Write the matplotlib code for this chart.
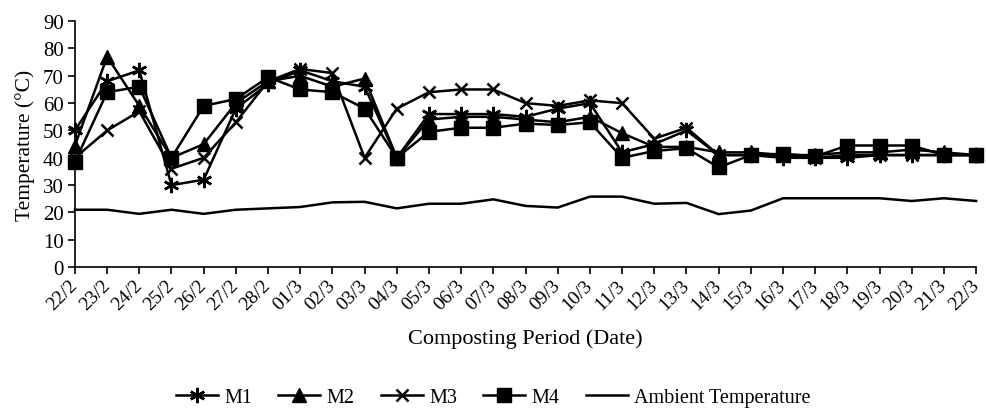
import numpy as np
import matplotlib
matplotlib.use("Agg")
import matplotlib.pyplot as plt

plt.rcParams['font.family'] = ['Liberation Serif', 'DejaVu Serif']

# dates on the x axis
dates = ["22/2", "23/2", "24/2", "25/2", "26/2", "27/2", "28/2", "01/3", "02/3", "03/3",
         "04/3", "05/3", "06/3", "07/3", "08/3", "09/3", "10/3", "11/3", "12/3", "13/3",
         "14/3", "15/3", "16/3", "17/3", "18/3", "19/3", "20/3", "21/3", "22/3"]

# temperatures
m1 = [50, 68, 72, 30, 32, 58, 67, 72, 68, 66,
      40, 56, 56, 56, 55, 58, 60, 42, 45, 50,
      41, 41, 40, 40, 40, 41, 41, 41, 41]
m2 = [44.5, 77, 59, 40, 45, 60, 68, 70, 66, 69,
      40, 54, 55, 55, 54, 53, 55, 49, 44, 44,
      42, 42, 41, 41, 42, 42, 43, 42, 41]
m3 = [40, 50, 57, 36, 40, 53, 68, 72.5, 71, 40,
      58, 64, 65, 65, 60, 59, 61, 60, 47, 51,
      41, 41, 41, 40, 41, 41, 41, 41, 41]
m4 = [38.5, 64, 66, 40, 59, 61.5, 69.5, 65, 64, 58,
      40, 49.5, 51, 51, 52.5, 52, 53, 40, 42.5, 43.5,
      36.5, 41, 41.5, 40.5, 44.5, 44.5, 44.5, 41, 41]
ambient = [21, 21, 19.5, 21, 19.5, 21, 21.5, 22, 23.7, 23.9,
           21.5, 23.2, 23.2, 24.8, 22.4, 21.8, 25.8, 25.8, 23.2, 23.5,
           19.4, 20.7, 25.2, 25.2, 25.2, 25.2, 24.2, 25.2, 24.2]

x = np.arange(len(dates))

fig = plt.figure(figsize=(9.86, 4.1), dpi=100)
ax = fig.add_axes([0.076, 0.346, 0.914, 0.6])

kw = dict(color='black', lw=1.8, clip_on=False)
ax.plot(x, m1, marker=(6, 2, 0), ms=11, mew=1.8, label='M1', **kw)
ax.plot(x, m2, marker='^', ms=10, label='M2', **kw)
ax.plot(x, m3, marker='x', ms=9, mew=1.8, label='M3', **kw)
ax.plot(x, m4, marker='s', ms=10, label='M4', **kw)
ax.plot(x, ambient, lw=1.8, color='black', label='Ambient Temperature', clip_on=False)

ax.set_xlim(0, len(dates) - 1)
ax.set_ylim(0, 90)
ax.set_yticks(np.arange(0, 91, 10))
ax.set_xticks(x)
ax.set_xticklabels(dates, rotation=45, ha='right', va='center', rotation_mode='anchor',
                   fontsize=14)
ax.tick_params(axis='y', labelsize=15, direction='out', length=5, width=1.2, pad=3)
ax.tick_params(axis='x', direction='out', length=5, width=1.2, pad=6)
for s in ['left', 'bottom']:
    ax.spines[s].set_linewidth(1.2)
ax.spines['top'].set_visible(False)
ax.spines['right'].set_visible(False)
ax.set_ylabel('Temperature (°C)', fontsize=15.5, labelpad=6)
ax.set_xlabel('Composting Period (Date)', fontsize=16, labelpad=11)

fig.legend(loc='center', bbox_to_anchor=(0.5, 1 - 398 / 410), ncol=5, frameon=False,
           fontsize=14.5, handlelength=2.1, handletextpad=0.3, columnspacing=1.3)

fig.savefig('out.png', dpi=100)
